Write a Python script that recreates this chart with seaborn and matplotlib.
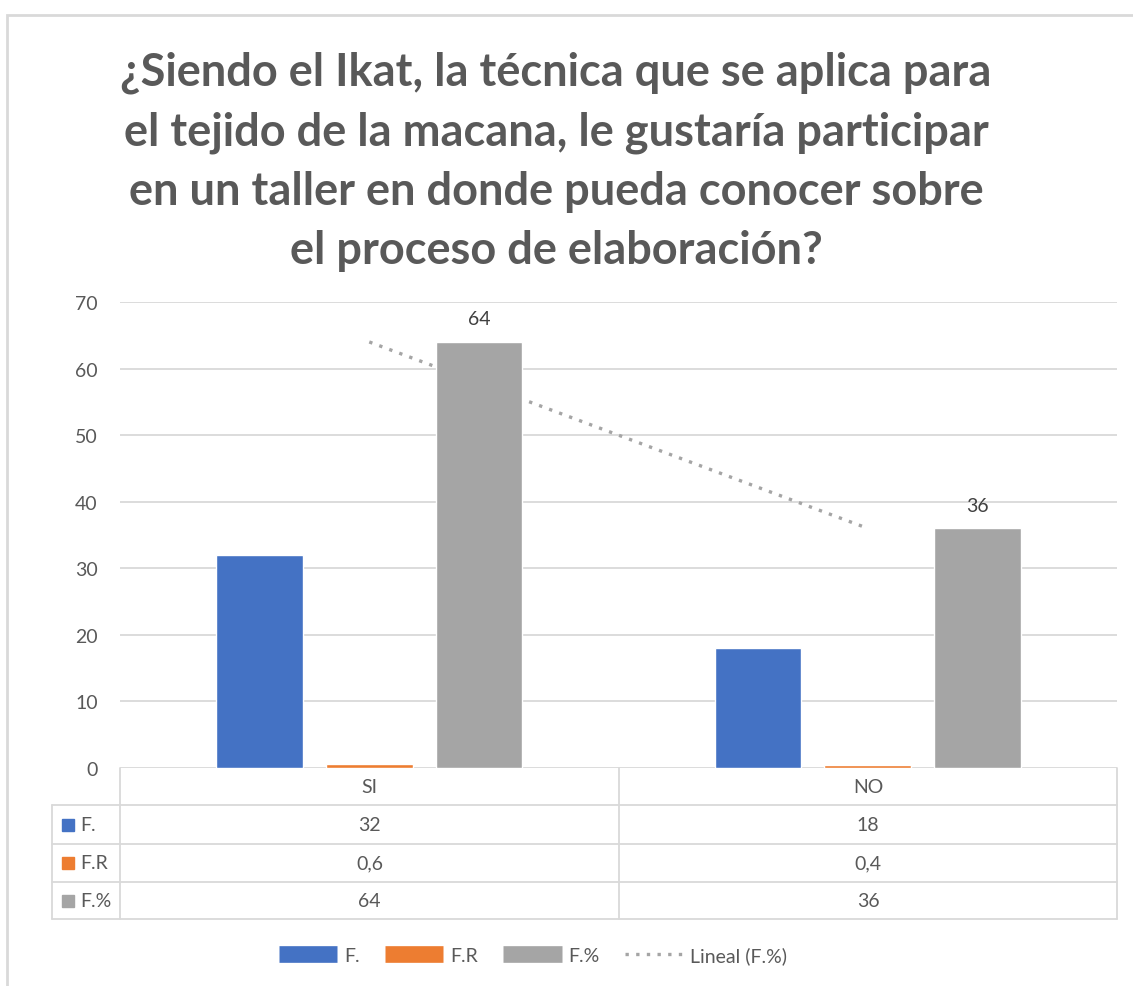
import numpy as np
import pandas as pd
import seaborn as sns
import matplotlib.pyplot as plt
from matplotlib.lines import Line2D
from matplotlib.patches import Rectangle

# Data
categories = ["SI", "NO"]
series_names = ["F.", "F.R", "F.%"]
f_values = [32, 18]
fr_values = [0.6, 0.4]
fpct_values = [64, 36]
table_text = {"F.": ["32", "18"], "F.R": ["0,6", "0,4"], "F.%": ["64", "36"]}

colors = ["#4472C4", "#ED7D31", "#A5A5A5"]
text_gray = "#595959"
grid_gray = "#D9D9D9"

title = ("¿Siendo el Ikat, la técnica que se aplica para\n"
         "el tejido de la macana, le gustaría participar\n"
         "en un taller en donde pueda conocer sobre\n"
         "el proceso de elaboración?")

df = pd.DataFrame({
    "cat": categories * 3,
    "serie": [s for s in series_names for _ in categories],
    "valor": f_values + fr_values + fpct_values,
})

sns.set_style("white")
plt.rcParams["font.family"] = ["Lato", "DejaVu Sans"]

W, H = 1133, 987
fig = plt.figure(figsize=(W / 100, H / 100), dpi=100)

# pixel helper -> figure fraction
def fx(px):
    return px / W

def fy(py):
    return 1 - py / H

ax_left, ax_right, ax_top, ax_bottom = 120, 1117, 303, 769
ax = fig.add_axes([fx(ax_left), fy(ax_bottom), fx(ax_right - ax_left), fy(ax_top) - fy(ax_bottom)])

sns.barplot(data=df, x="cat", y="valor", hue="serie", order=categories,
            hue_order=series_names, palette=colors, width=0.66, gap=0.21,
            saturation=1, ax=ax, legend=False, zorder=3)

# linear trend on F.%
xs = np.arange(len(categories))
coef = np.polyfit(xs, fpct_values, 1)
ax.plot(xs, np.polyval(coef, xs), linestyle=(0, (1, 2.2)), color="#A5A5A5",
        linewidth=2.4, zorder=2)

# data labels on F.%
for bar, v in zip(ax.containers[2], fpct_values):
    ax.text(bar.get_x() + bar.get_width() / 2, v + 2.2, str(v), ha="center",
            va="bottom", fontsize=14, color="#404040")

ax.set_xlim(-0.5, 1.5)
ax.set_ylim(0, 70)
ax.set_yticks(range(0, 71, 10))
ax.yaxis.grid(True, color=grid_gray, linewidth=1.3, zorder=0)
ax.set_axisbelow(True)
for s in ax.spines.values():
    s.set_visible(False)
ax.set_xticks([])
ax.set_xlabel("")
ax.set_ylabel("")
ax.tick_params(axis="y", length=0, labelsize=14, labelcolor=text_gray, pad=16)

# data table under the axes
row_y = [769, 806, 845, 883, 920]
col_x = [52, 120, 619, 1117]
line_kw = dict(color=grid_gray, linewidth=1.3, transform=fig.transFigure)
fig.add_artist(Line2D([fx(120), fx(120)], [fy(769), fy(920)], **line_kw))
fig.add_artist(Line2D([fx(619), fx(619)], [fy(769), fy(920)], **line_kw))
fig.add_artist(Line2D([fx(1117), fx(1117)], [fy(769), fy(920)], **line_kw))
fig.add_artist(Line2D([fx(52), fx(52)], [fy(806), fy(920)], **line_kw))
for y in row_y[1:]:
    fig.add_artist(Line2D([fx(52), fx(1117)], [fy(y), fy(y)], **line_kw))

centers = [(col_x[1] + col_x[2]) / 2, (col_x[2] + col_x[3]) / 2]
for c, lab in zip(centers, categories):
    fig.text(fx(c), fy((row_y[0] + row_y[1]) / 2), lab, ha="center", va="center",
             fontsize=14, color=text_gray)
for r, (name, col) in enumerate(zip(series_names, colors)):
    yc = fy((row_y[r + 1] + row_y[r + 2]) / 2)
    fig.add_artist(Rectangle((fx(62), yc - 6 / H), 12 / W, 12 / H, color=col,
                             transform=fig.transFigure))
    fig.text(fx(80), yc, name, ha="left", va="center", fontsize=14, color=text_gray)
    for c, val in zip(centers, table_text[name]):
        fig.text(fx(c), yc, val, ha="center", va="center", fontsize=14, color=text_gray)

# legend
handles = [Line2D([], [], color=c, linewidth=12, solid_capstyle="butt") for c in colors]
handles.append(Line2D([], [], color="#A5A5A5", linestyle=(0, (1, 2.2)), linewidth=2.4))
fig.legend(handles, series_names + ["Lineal (F.%)"], loc="center",
           bbox_to_anchor=(fx(533), fy(956)), ncol=4, frameon=False,
           fontsize=14, labelcolor=text_gray, handlelength=3.0,
           columnspacing=1.3, handletextpad=0.35)

fig.text(fx(556), fy(162), title, ha="center", va="center", fontsize=32.5,
         fontweight="bold", color=text_gray, linespacing=1.5)

# chart frame
fig.add_artist(Rectangle((fx(7), fy(1000)), fx(1200), fy(16) - fy(1000), fill=False,
                         edgecolor=grid_gray, linewidth=2, transform=fig.transFigure))

fig.savefig("out.png", dpi=100)
